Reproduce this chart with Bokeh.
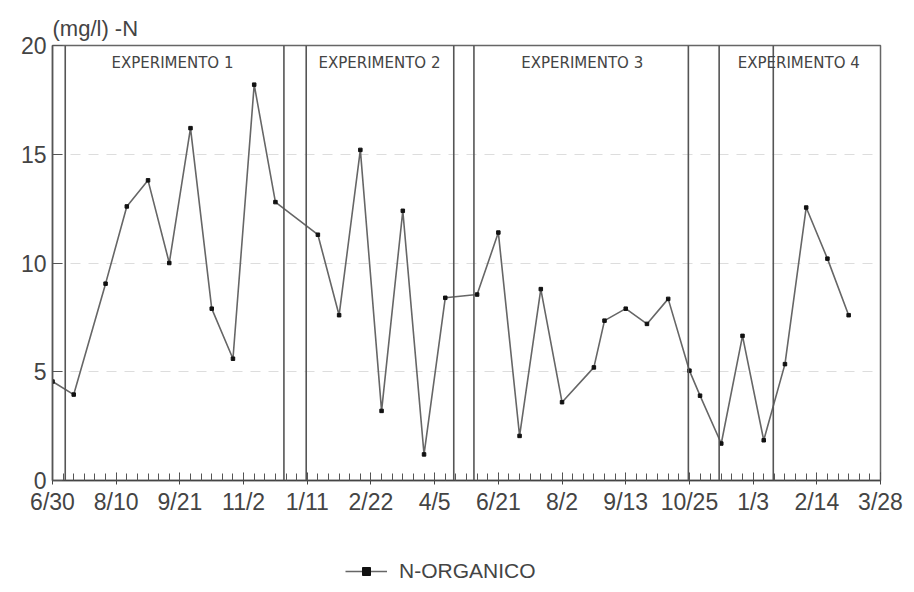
from bokeh.plotting import figure
from bokeh.layouts import column
from bokeh.models import (FixedTicker, Span, Label, Legend, LegendItem, Range1d)
from bokeh.embed import file_html
from bokeh.resources import INLINE

# ---- data ----
week = [0, 2, 5, 7, 9, 11, 13, 15, 17, 19, 21, 25, 27, 29, 31, 33, 35, 37,
        40, 42, 44, 46, 48, 51, 52, 54, 56, 58, 60, 61, 63, 65, 67,
        69, 71, 73, 75]
n_organico = [4.55, 3.95, 9.05, 12.6, 13.8, 10.0, 16.2, 7.9, 5.6, 18.2, 12.8,
              11.3, 7.6, 15.2, 3.2, 12.4, 1.2, 8.4, 8.55, 11.4, 2.05, 8.8, 3.6,
              5.2, 7.35, 7.9, 7.2, 8.35, 5.05, 3.9, 1.7, 6.65, 1.85, 5.35,
              12.55, 10.2, 7.6]
tick_weeks = [0, 6, 12, 18, 24, 30, 36, 42, 48, 54, 60, 66, 72, 78]
tick_labels = ["6/30", "8/10", "9/21", "11/2", "1/11", "2/22", "4/5",
               "6/21", "8/2", "9/13", "10/25", "1/3", "2/14", "3/28"]
separators = [1.2, 21.8, 23.9, 37.8, 39.7, 59.9, 62.8, 67.9]
experiments = ["EXPERIMENTO 1", "EXPERIMENTO 2", "EXPERIMENTO 3", "EXPERIMENTO 4"]
experiment_centers = [11.3, 30.8, 49.9, 70.3]
y_ticks = [0, 5, 10, 15, 20]
series_name = "N-ORGANICO"

INK = "#444444"
FONT = "Liberation Sans"
LINE = "#666666"

p = figure(frame_width=828, frame_height=435, output_backend="svg",
           toolbar_location=None,
           x_range=Range1d(0, 78), y_range=Range1d(0, 20),
           min_border_left=52, min_border_right=34, min_border_top=45,
           min_border_bottom=50)
p.background_fill_color = "white"
p.border_fill_color = "white"
p.outline_line_color = "#666666"
p.outline_line_width = 1.5

p.title.text = "(mg/l) -N"
p.title.align = "left"
p.title.text_font = FONT
p.title.text_font_size = "22px"
p.title.text_font_style = "normal"
p.title.text_color = INK
p.title.standoff = 10

# axes
xa = p.xaxis[0]
xa.ticker = FixedTicker(ticks=tick_weeks, minor_ticks=list(range(0, 79)))
xa.major_label_overrides = {t: l for t, l in zip(tick_weeks, tick_labels)}
xa.major_label_text_font = FONT
xa.major_label_text_font_size = "23px"
xa.major_label_text_color = INK
xa.axis_line_color = "#444444"
xa.axis_line_width = 1.5
xa.major_tick_line_color = "#444444"
xa.major_tick_in = 8
xa.major_tick_out = 4
xa.minor_tick_line_color = "#555555"
xa.minor_tick_in = 7
xa.minor_tick_out = 0
xa.major_label_standoff = 4

ya = p.yaxis[0]
ya.ticker = FixedTicker(ticks=y_ticks)
ya.major_label_text_font = FONT
ya.major_label_text_font_size = "23px"
ya.major_label_text_color = INK
ya.axis_line_color = "#555555"
ya.axis_line_width = 1.5
ya.major_tick_line_color = "#555555"
ya.major_tick_in = 10
ya.major_tick_out = 0
ya.minor_tick_line_color = None
ya.major_label_standoff = 6

p.xgrid.visible = False
p.ygrid.grid_line_color = "#dddddd"
p.ygrid.grid_line_dash = "10 8"
p.ygrid.grid_line_width = 1

# separators
for s in separators:
    p.add_layout(Span(location=s, dimension="height", line_color="#555555",
                      line_width=1.6))

for name, cx in zip(experiments, experiment_centers):
    p.add_layout(Label(x=cx, y=19.2, text=name, text_align="center",
                       text_baseline="middle", text_font="DejaVu Sans",
                       text_font_size="15px", text_color=INK))

p.line(week, n_organico, line_color=LINE, line_width=1.6)
p.scatter(week, n_organico, marker="square", size=3.5,
          fill_color="#111111", line_color="#111111")

# ---- legend strip below the chart ----
lg = figure(frame_width=914, frame_height=62, output_backend="svg",
            toolbar_location=None, x_range=Range1d(0, 1), y_range=Range1d(0, 1),
            min_border=0)
lg.axis.visible = False
lg.grid.visible = False
lg.outline_line_color = None
lg.background_fill_color = "white"
lg.border_fill_color = "white"
# placeholder renderers (outside the visible range) that only feed the legend
r_line = lg.line([-5, -4], [-5, -4], line_color=LINE, line_width=1.6)
r_pt = lg.scatter([-5], [-5], marker="square", size=2.5,
                  fill_color="#111111", line_color="#111111")
legend = Legend(items=[LegendItem(label=series_name, renderers=[r_line, r_pt])],
                location=(345, 9), orientation="horizontal",
                glyph_width=42, glyph_height=20, label_standoff=12, padding=0,
                label_text_font=FONT, label_text_font_size="21px",
                label_text_color=INK, border_line_color=None,
                background_fill_alpha=0, margin=0)
lg.add_layout(legend, "center")

layout = column(p, lg, spacing=0)
open("out.html", "w").write(file_html(layout, INLINE))
